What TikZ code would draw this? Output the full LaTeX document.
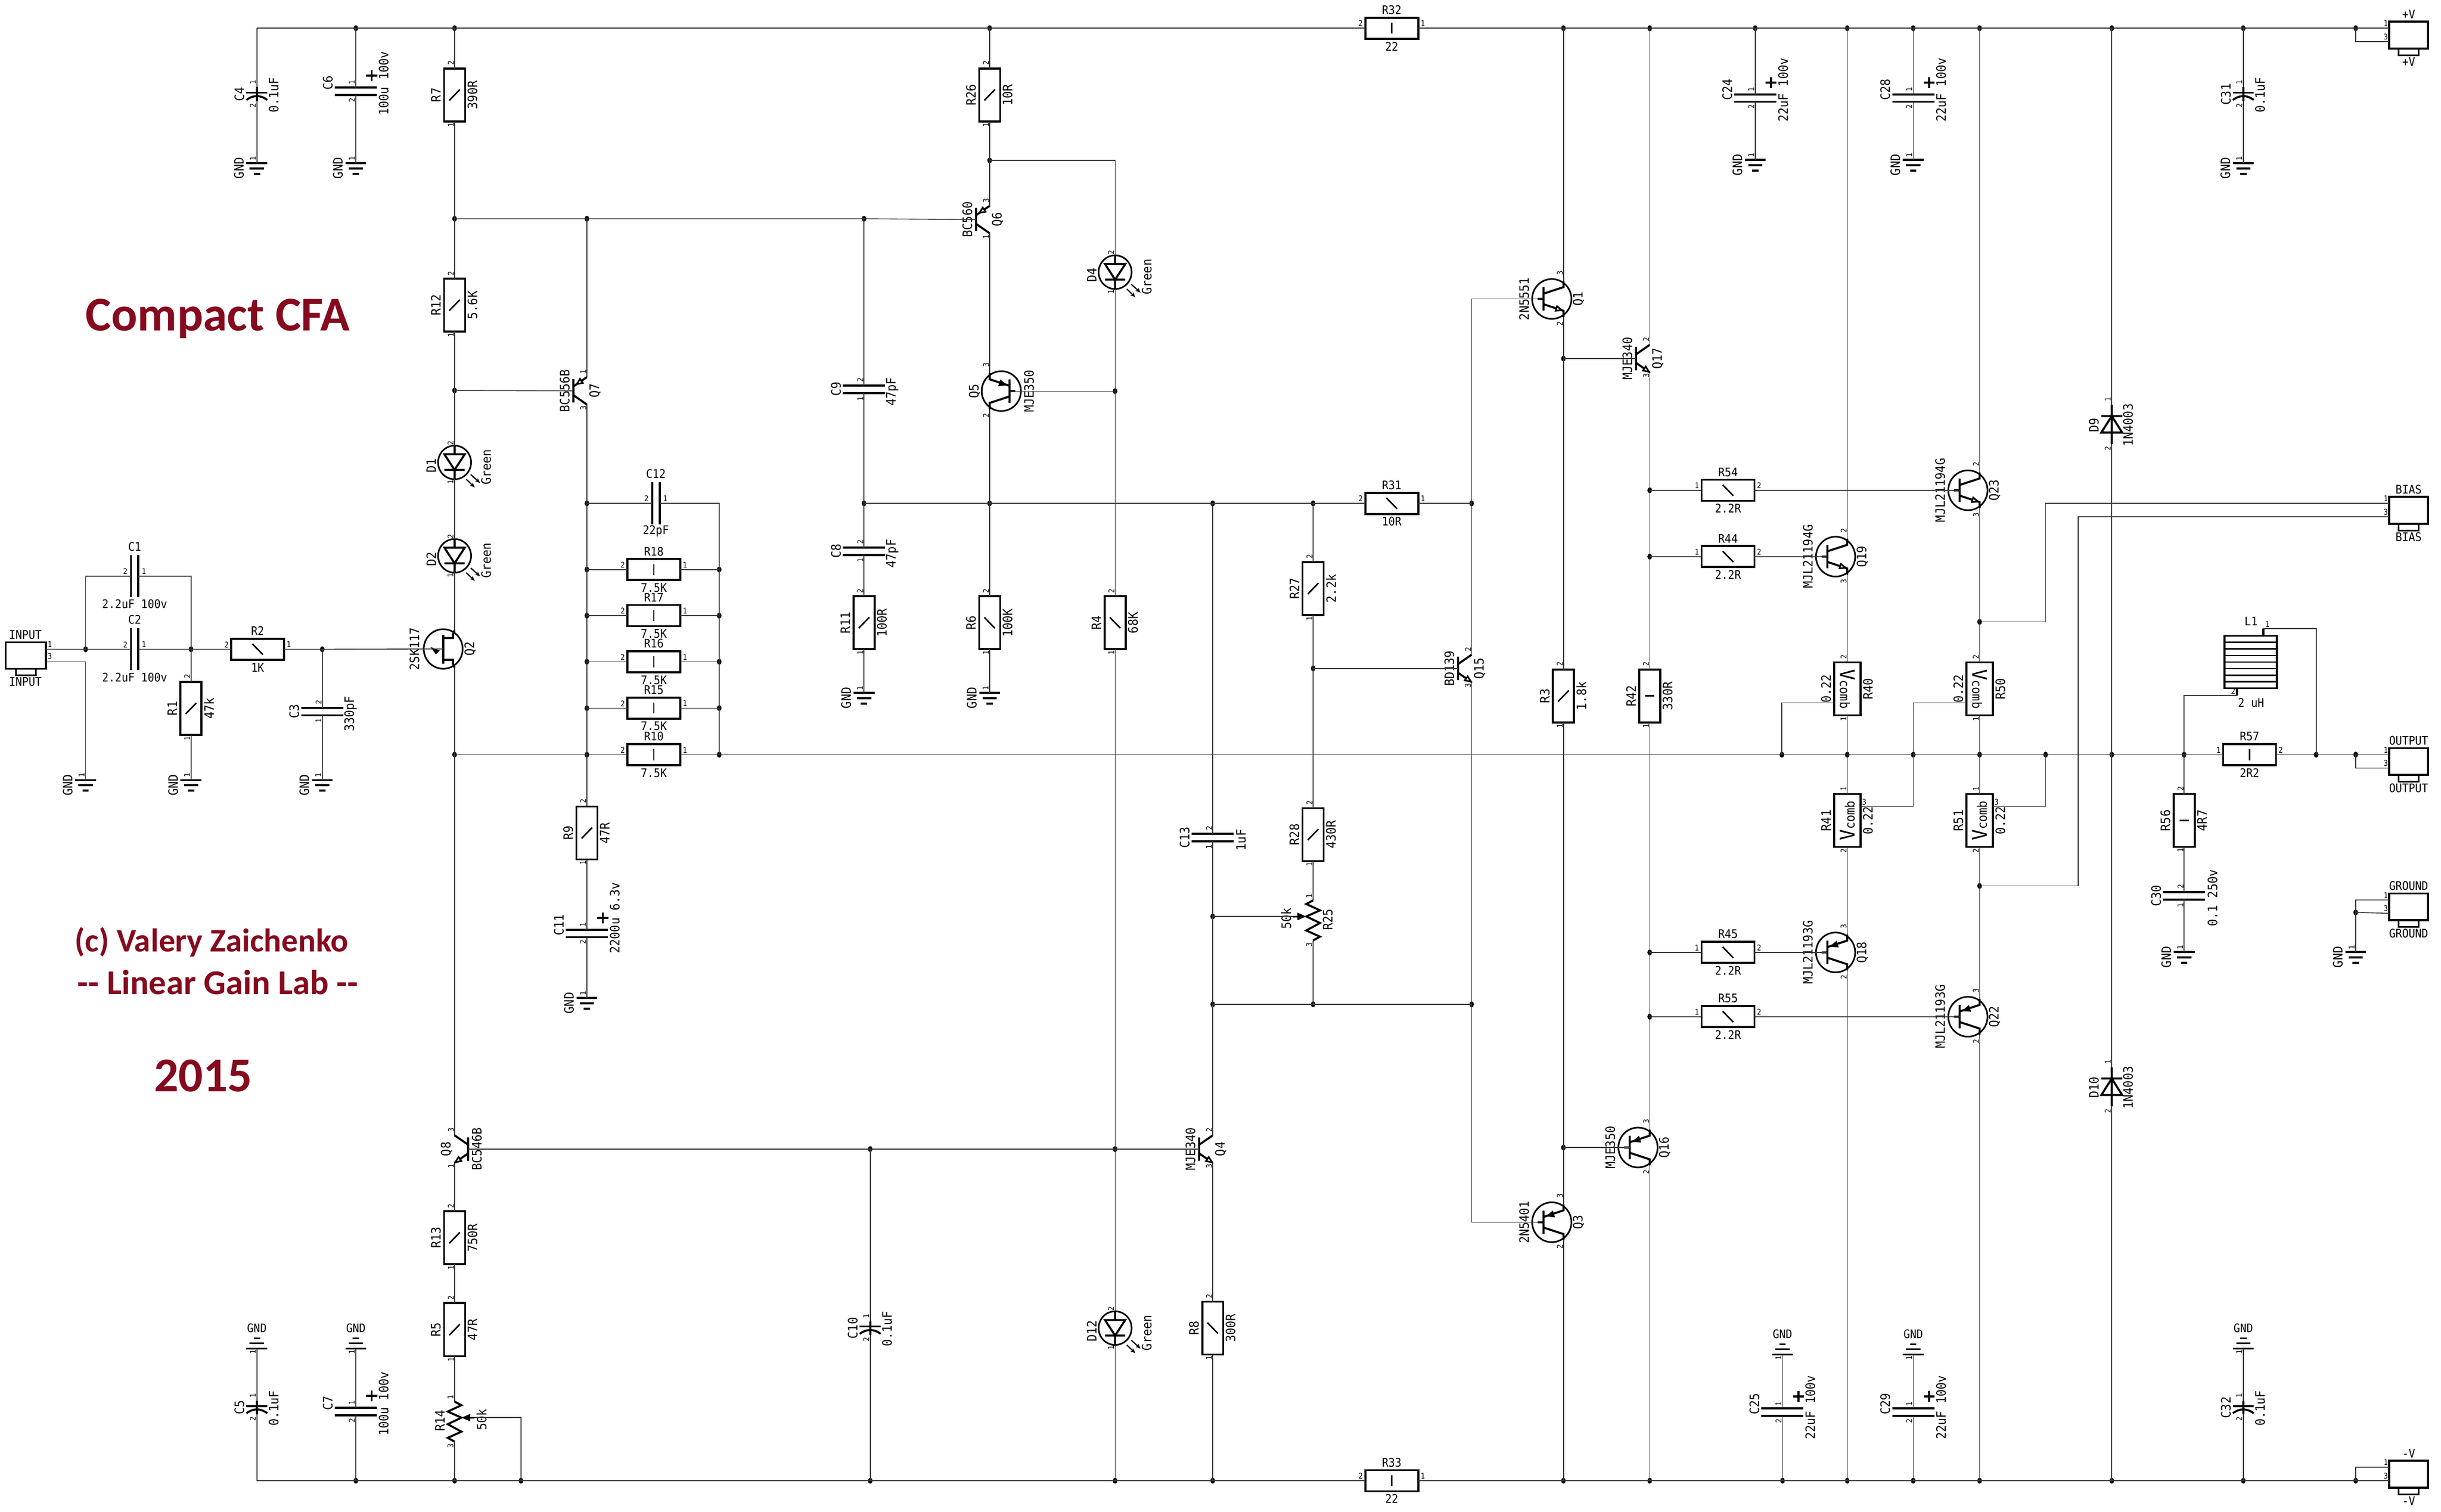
\documentclass[tikz,border=0pt]{standalone}
\usepackage{fontspec}
\usetikzlibrary{arrows.meta}
\newfontfamily\cad[FakeStretch=0.91]{DejaVu Sans Mono}
\newfontfamily\ttlfont{Carlito}
\definecolor{ttlred}{HTML}{860A1E}
\tikzset{
  wire/.style={line width=0.32pt,draw=black!78},
  sym/.style={line width=0.75pt,draw=black},
  tk/.style={line width=0.55pt,draw=black},
  vt/.style={inner sep=0pt,rotate=90,font=\cad\fontsize{4.8}{5}\selectfont},
  ht/.style={inner sep=0pt,font=\cad\fontsize{4.4}{5}\selectfont},
  pv/.style={inner sep=0pt,rotate=90,font=\cad\fontsize{2.9}{3}\selectfont},
  ph/.style={inner sep=0pt,font=\cad\fontsize{2.9}{3}\selectfont},
  title/.style={inner sep=0pt,text=ttlred,font=\ttlfont\bfseries},
  glow/.style={line width=0.45pt,-{Stealth[length=1.9pt,width=1.5pt]}}
}
\newcount\pcnt
\newcommand{\PV}[3]{\global\advance\pcnt by 1 \node[pv] (pin\the\pcnt) at (#1,#2) {#3};}
\newcommand{\PH}[3]{\global\advance\pcnt by 1 \node[ph] (pin\the\pcnt) at (#1,#2) {#3};}
\newcommand{\Jn}[3]{\coordinate (#1) at (#2,#3); \fill[black] (#2,#3) ellipse [x radius=1.5,y radius=1.9];}
\newcommand{\tS}{\draw[tk] (-3.4,3.5) -- (3.4,-3.5);}
\newcommand{\tB}{\draw[tk] (-3.4,-3.5) -- (3.4,3.5);}
\newcommand{\tV}{\draw[tk] (0,-3.5) -- (0,3.5);}
\newcommand{\tH}{\draw[tk] (-3,0) -- (3,0);}
% vertical resistor: name x y tick label value
\newcommand{\Rv}[6]{
  \begin{scope}[shift={(#2,#3)}]
    \draw[sym] (-6.75,-17) rectangle (6.75,17); #4
    \coordinate (#1-a) at (0,-17); \coordinate (#1-b) at (0,17);
    \node[vt] (#1-l) at (-12,0) {#5};
    \node[vt] (#1-v) at (11.5,0) {#6};
    \PV{-2.4}{-20.5}{2} \PV{-2.4}{19.2}{1}
  \end{scope}}
% horizontal resistor: name x y tick label value pinL pinR
\newcommand{\Rh}[8]{
  \begin{scope}[shift={(#2,#3)}]
    \draw[sym] (-17,-6.75) rectangle (17,6.75); #4
    \coordinate (#1-a) at (-17,0); \coordinate (#1-b) at (17,0);
    \node[ht] (#1-l) at (0,-11.7) {#5};
    \node[ht] (#1-v) at (0,11.7) {#6};
    \PH{-20}{-3}{#7} \PH{20}{-3}{#8}
  \end{scope}}
% Vcomb resistor: name x y rot label-left label-right pinT pinB
\newcommand{\Rc}[8]{
  \begin{scope}[shift={(#2,#3)}]
    \draw[sym] (-8.5,-17) rectangle (8.5,17);
    \coordinate (#1-a) at (0,-17); \coordinate (#1-b) at (0,17);
    \node[inner sep=0pt,rotate=#4,font=\cad\fontsize{4.8}{5}\selectfont] (#1-c) at (0,0) {{\fontsize{7.5}{8}\selectfont V}comb};
    \node[vt] (#1-l) at (-13.6,0) {#5};
    \node[vt] (#1-v) at (13.3,0) {#6};
    \PV{-2.4}{-20.5}{#7} \PV{-2.4}{19.5}{#8}
  \end{scope}}
% flat non polar vertical: name x y label value
\newcommand{\CapV}[5]{
  \begin{scope}[shift={(#2,#3)}]
    \draw[sym] (-13.5,-2.4) -- (13.5,-2.4) (-13.5,2.4) -- (13.5,2.4);
    \coordinate (#1-a) at (0,-2.4); \coordinate (#1-b) at (0,2.4);
    \node[vt] (#1-l) at (-18,0) {#4};
    \node[vt] (#1-v) at (18.2,1.5) {#5};
    \PV{-2.4}{-6}{2} \PV{-2.4}{6}{1}
  \end{scope}}
% polar: name x y label value value-dy
\newcommand{\CapP}[6]{
  \begin{scope}[shift={(#2,#3)}]
    \draw[sym] (-13.5,-2.4) -- (13.5,-2.4) (-13.5,2.4) -- (13.5,2.4);
    \draw[sym] (6.7,-10) -- (13.7,-10) (10.2,-13.5) -- (10.2,-6.5);
    \coordinate (#1-a) at (0,-2.4); \coordinate (#1-b) at (0,2.4);
    \node[vt] (#1-l) at (-18,-5.4) {#4};
    \node[vt] (#1-v) at (17.9,#6) {#5};
    \PV{-2.6}{-5.6}{1} \PV{-2.6}{5.6}{2}
  \end{scope}}
% curved: name x y label value
\newcommand{\CapC}[5]{
  \begin{scope}[shift={(#2,#3)}]
    \draw[sym] (-6.7,-0.5) -- (6.7,-0.5);
    \draw[sym] (-6.7,4.2) .. controls (-2.5,0.9) and (2.5,0.9) .. (6.7,4.2);
    \draw[sym] (0,-4) -- (0,4.8);
    \coordinate (#1-a) at (0,-4); \coordinate (#1-b) at (0,4.8);
    \node[vt] (#1-l) at (-11.2,0.5) {#4};
    \node[vt] (#1-v) at (10.8,1) {#5};
    \PV{-2.6}{-7}{1} \PV{-2.6}{7.7}{2}
  \end{scope}}
% horizontal cap: name x y label value
\newcommand{\CapH}[5]{
  \begin{scope}[shift={(#2,#3)}]
    \draw[sym] (-2.4,-13.5) -- (-2.4,13.5) (2.4,-13.5) -- (2.4,13.5);
    \coordinate (#1-a) at (-2.4,0); \coordinate (#1-b) at (2.4,0);
    \node[ht] (#1-l) at (0,-19) {#4};
    \node[ht] (#1-v) at (0,18) {#5};
    \PH{-6}{-3}{2} \PH{6}{-3}{1}
  \end{scope}}
\newcommand{\Gd}[3]{
  \coordinate (#1) at (#2,#3);
  \begin{scope}[shift={(#2,#3)}]
    \draw[sym] (-6.7,0) -- (6.7,0) (-4.6,3.4) -- (4.6,3.4) (-2,6.8) -- (2,6.8);
    \node[vt] (#1-l) at (-11.5,3.2) {GND};
    \PV{-2.6}{-3}{1}
  \end{scope}}
\newcommand{\Gu}[3]{
  \coordinate (#1) at (#2,#3);
  \begin{scope}[shift={(#2,#3)}]
    \draw[sym] (-6.7,0) -- (6.7,0) (-4.6,-3.5) -- (4.6,-3.5) (-2,-6.6) -- (2,-6.6);
    \node[ht] (#1-l) at (0,-13.2) {GND};
    \PV{-2.6}{2.2}{1}
  \end{scope}}
% round BJT: name col y s arrow model ref
\newcommand{\arrN}{\draw[line width=0.6pt,fill=white] (-1.1,7.2) -- (-5,7.53) -- (-4.1,4.67) -- cycle;}
\newcommand{\arrP}{\draw[line width=0.6pt,fill=black] (-10.1,-4.1) -- (-7.1,-6.63) -- (-6.2,-3.77) -- cycle;}
\newcommand{\BJTr}[7]{
  \begin{scope}[shift={(#2,#3)},xscale=#4]
    \draw[line width=0.6pt] (-7.5,0) ellipse [x radius=12.6,y radius=12.8];
    \draw[sym] (-12.8,-7.5) -- (-12.8,7.5) (-12.8,-3.4) -- (0,-7.6) -- (0,-11.5) (-12.8,3.4) -- (0,7.6) -- (0,11.5) (-12.8,0) -- (-16.5,0);
    #5
    \coordinate (#1-t) at (0,-11.5); \coordinate (#1-b) at (0,11.5); \coordinate (#1-g) at (-12.8,0);
    \node[vt] (#1-m) at (-25.3,0) {#6};
    \node[vt] (#1-r) at (9.7,0) {#7};
  \end{scope}}
% plain BJT: name col y s arrow model ref
\newcommand{\arrNp}{\draw[line width=0.6pt,fill=white] (-0.5,8.45) -- (-4.37,7.7) -- (-2.55,5.1) -- cycle;}
\newcommand{\arrPp}{\draw[line width=0.6pt,fill=white] (-6.5,-4.3) -- (-4.45,-7.67) -- (-2.63,-5.03) -- cycle;}
\newcommand{\BJTn}[7]{
  \begin{scope}[shift={(#2,#3)},xscale=#4]
    \draw[sym] (-8.7,-7.5) -- (-8.7,7.5) (-8.7,-2.8) -- (0,-8.8) (-8.7,2.8) -- (0,8.8);
    #5
    \coordinate (#1-t) at (0,-8.8); \coordinate (#1-b) at (0,8.8); \coordinate (#1-g) at (-8.7,0);
    \node[vt] (#1-m) at (-14.3,0) {#6};
    \node[vt] (#1-r) at (5.2,0) {#7};
  \end{scope}}
\newcommand{\LED}[6]{
  \begin{scope}[shift={(#2,#3)}]
    \draw[line width=0.6pt] (0,0) ellipse [x radius=10.6,y radius=10.8];
    \draw[sym] (-6.5,-5.2) -- (6.5,-5.2) -- (0,4.8) -- cycle (-6.5,4.8) -- (6.5,4.8) (0,-10.8) -- (0,-5.2) (0,4.8) -- (0,10.8);
    \draw[glow] (10.4,7.8) -- (16.4,13.2);
    \draw[glow] (7.5,10.8) -- (13,16.1);
    \coordinate (#1-a) at (0,-10.8); \coordinate (#1-b) at (0,10.8);
    \node[vt] (#1-l) at (-15,2) {#4};
    \node[vt] (#1-v) at (20.3,3) {Green};
    \PV{-2.6}{-12.5}{#5} \PV{-2.6}{12.5}{#6}
  \end{scope}}
\newcommand{\Diod}[5]{
  \begin{scope}[shift={(#2,#3)}]
    \draw[sym] (-6.7,-5.3) -- (6.7,-5.3) (-6.7,5.3) -- (6.7,5.3) -- (0,-5.3) -- cycle (0,-12.5) -- (0,12.5);
    \coordinate (#1-a) at (0,-12.5); \coordinate (#1-b) at (0,12.5);
    \node[vt] (#1-l) at (-11.5,0.5) {#4};
    \node[vt] (#1-v) at (10.5,0.5) {#5};
    \PV{-2.6}{-16}{1} \PV{-2.6}{15.5}{2}
  \end{scope}}
% pot: name x y s label value
\newcommand{\Pot}[6]{
  \begin{scope}[shift={(#2,#3)},xscale=#4]
    \draw[sym] (0,-10.3) -- (4.4,-8) -- (-4.4,-3.9) -- (4.4,0) -- (-4.4,4.2) -- (4.4,9) -- (-4.4,13) -- (0,15.4);
    \fill (4.4,0) -- (10,-2.4) -- (10,2.4) -- cycle;
    \draw[tk] (10,0) -- (13,0);
    \coordinate (#1-a) at (0,-10.3); \coordinate (#1-b) at (0,15.4); \coordinate (#1-w) at (13,0);
    \node[vt] (#1-l) at (-9.4,2) {#5};
    \node[vt] (#1-v) at (17.3,1.2) {#6};
  \end{scope}
  \PV{#2-2.6}{#3-13}{1} \PV{#2-2.6}{#3+18}{3}}
\newcommand{\Conn}[3]{
  \begin{scope}[shift={(1534.8,#2)}]
    \draw[sym] (0,-4.2) rectangle (24.9,13);
    \draw[line width=0.6pt] (6.1,13) -- (6.1,17.3) -- (18.8,17.3) -- (18.8,13);
    \coordinate (#1-1) at (0,0); \coordinate (#1-3) at (0,8.6);
    \node[ht] (#1-u) at (12.4,-9) {#3};
    \node[ht] (#1-d) at (12.4,21.5) {#3};
    \PH{-2.2}{-3}{1} \PH{-2.2}{5.5}{3}
  \end{scope}}
\begin{document}
\begin{tikzpicture}[x=0.5767pt,y=-0.5767pt]
\fill[white] (0,0) rectangle (1568,971.1);
\useasboundingbox (0,0) rectangle (1568,971.1);
% ---- titles
\node[title,font=\ttlfont\bfseries\fontsize{18}{20}\selectfont] (t1) at (140,204.5) {Compact CFA};
\node[title,font=\ttlfont\bfseries\fontsize{12.2}{14}\selectfont] (t2) at (136,605) {(c) Valery Zaichenko};
\node[title,font=\ttlfont\bfseries\fontsize{12.9}{15}\selectfont] (t3) at (140,631) {-- Linear Gain Lab --};
\node[title,font=\ttlfont\bfseries\fontsize{18}{20}\selectfont] (t4) at (130.5,691) {2015};
% ---- junctions
\coordinate (T165) at (165,18.1); \coordinate (B165) at (165,951);
\foreach \n/\x in {228/228.6,292/292,635/635.7,1004/1004.3,1060/1059.7,1127/1127.5,1187/1186.6,1229/1229,1271/1271.6,1356/1356.5,1441/1441,1513/1513.2} {\Jn{T\n}{\x}{18.1}}
\foreach \n/\x in {228/228.6,292/292,335/334.6,559/559,716/716.3,779/779,1004/1004.3,1060/1059.7,1145/1145,1187/1186.6,1229/1229,1271/1271.6,1356/1356.5,1441/1441,1513/1513.2} {\Jn{B\n}{\x}{951}}
\foreach \n/\x in {292/292,377/377,462/462,1144/1144.6,1187/1186.6,1229/1229,1271/1271.6,1314/1314,1356/1356.5,1403/1403,1488/1487.8,1513/1513.2} {\Jn{M\n}{\x}{484.7}}
\Jn{Ji55}{55}{417} \Jn{Ji122}{122.7}{417} \Jn{Ji207}{207}{417}
\Jn{Ja292}{292}{140.5} \Jn{Ja377}{377}{140.5} \Jn{Ja555}{555}{140.5} \Jn{Jb292}{292}{250.8}
\Jn{Jc377}{377}{323.3} \Jn{Jd377}{377}{365.8} \Jn{Je377}{377}{395.4} \Jn{Jf377}{377}{425} \Jn{Jg377}{377}{454.8}
\coordinate (Kc) at (462,323.3); \Jn{Kd}{462}{365.8} \Jn{Ke}{462}{395.4} \Jn{Kf}{462}{425} \Jn{Kg}{462}{454.8}
\Jn{Jc555}{555}{323.3} \Jn{Jc635}{635.7}{323.3} \Jn{Jc779}{779}{323.3} \Jn{Jc843}{843.5}{323.3} \Jn{Jc945}{945.3}{323.3}
\Jn{Jb635}{635.7}{103} \Jn{Jb716}{716.3}{251.2} \Jn{J843b}{843.5}{429.3} \Jn{J779b}{779}{588.6} \Jn{J779c}{779}{645} \Jn{J843c}{843.5}{645} \Jn{J945b}{945.3}{645}
\Jn{J559}{559}{738} \Jn{J716c}{716.3}{738} \Jn{J1004b}{1004.3}{230.3} \Jn{J1004c}{1004.3}{737}
\Jn{J1060a}{1059.7}{314.9} \Jn{J1060b}{1059.7}{357.5} \Jn{J1060c}{1059.7}{611.7} \Jn{J1060d}{1059.7}{653}
\Jn{J1271a}{1271.6}{399.4} \Jn{J1271b}{1271.6}{569}
\coordinate (Bc1) at (1314,399.4); \coordinate (Bc2) at (1335,569);
\Jn{Jgnd}{1513.2}{586}
% ---- input connector
\draw[sym] (3.6,412.5) rectangle (29.5,429.5);
\draw[line width=0.6pt] (10.4,429.5) -- (10.4,433.6) -- (23,433.6) -- (23,429.5);
\coordinate (IN-1) at (29.5,417); \coordinate (IN-3) at (29.5,425);
\coordinate (INc) at (55,425);
\node[ht] (IN-u) at (16.3,407.6) {INPUT};
\node[ht] (IN-d) at (16.3,437.9) {INPUT};
\PH{32}{414}{1} \PH{32}{421.5}{3}
\Conn{PV}{18.1}{+V} \Conn{NV}{942.4}{-V} \Conn{BIAS}{323.3}{BIAS} \Conn{OUT}{484.7}{OUTPUT} \Conn{GR}{578}{GROUND}
% ---- resistors
\Rv{R7}{292}{61}{\tS}{R7}{390R}
\Rv{R12}{292}{196}{\tS}{R12}{5.6K}
\Rv{R1}{122.7}{455}{\tS}{R1}{47k}
\Rv{R26}{635.7}{61}{\tS}{R26}{10R}
\Rv{R4}{716.3}{400}{\tB}{R4}{68K}
\Rv{R6}{635.7}{400}{\tB}{R6}{100K}
\Rv{R11}{555}{400}{\tS}{R11}{100R}
\Rv{R9}{377}{535}{\tS}{R9}{47R}
\Rv{R13}{292}{795}{\tS}{R13}{750R}
\Rv{R5}{292}{854}{\tS}{R5}{47R}
\Rv{R8}{779}{853}{\tB}{R8}{300R}
\Rv{R27}{843.5}{378}{\tS}{R27}{2.2k}
\Rv{R28}{843.5}{536}{\tS}{R28}{430R}
\Rv{R3}{1004.3}{447}{\tS}{R3}{1.8k}
\Rv{R42}{1059.7}{447}{\tH}{R42}{330R}
\Rv{R56}{1403}{527}{\tH}{R56}{4R7}
\Rh{R2}{165.5}{417}{\tB}{R2}{1K}{2}{1}
\Rh{R18}{420}{365.8}{\tV}{R18}{7.5K}{2}{1}
\Rh{R17}{420}{395.4}{\tV}{R17}{7.5K}{2}{1}
\Rh{R16}{420}{425}{\tV}{R16}{7.5K}{2}{1}
\Rh{R15}{420}{454.8}{\tV}{R15}{7.5K}{2}{1}
\Rh{R10}{420}{484.7}{\tV}{R10}{7.5K}{2}{1}
\Rh{R31}{894}{323.3}{\tB}{R31}{10R}{2}{1}
\Rh{R32}{894}{18.1}{\tV}{R32}{22}{2}{1}
\Rh{R33}{894}{951}{\tV}{R33}{22}{2}{1}
\Rh{R54}{1110}{314.9}{\tB}{R54}{2.2R}{1}{2}
\Rh{R44}{1110}{357.5}{\tB}{R44}{2.2R}{1}{2}
\Rh{R45}{1110}{611.7}{\tB}{R45}{2.2R}{1}{2}
\Rh{R55}{1110}{653}{\tB}{R55}{2.2R}{1}{2}
\Rh{R57}{1445}{484.7}{\tV}{R57}{2R2}{1}{2}
\Rc{R40}{1186.6}{442.4}{-90}{0.22}{R40}{2}{1}
\Rc{R50}{1271.6}{442.4}{-90}{0.22}{R50}{2}{1}
\Rc{R41}{1186.6}{527}{90}{R41}{0.22}{1}{2}
\Rc{R51}{1271.6}{527}{90}{R51}{0.22}{1}{2}
\coordinate (R40-t) at (1178.1,451.4); \coordinate (R50-t) at (1263.1,451.4);
\coordinate (R41-t) at (1195.1,518); \coordinate (R51-t) at (1280.1,518);
\PH{1197.5}{515}{3} \PH{1282.5}{515}{3}
\Pot{R14}{292}{910.5}{1}{R14}{50k}
\Pot{R25}{843.5}{588.6}{-1}{R25}{50k}
% ---- capacitors
\CapH{C1}{86.5}{370}{C1}{2.2uF 100v}
\CapH{C2}{86.5}{417}{C2}{2.2uF 100v}
\CapH{C12}{421.3}{323.3}{C12}{22pF}
\CapV{C3}{207}{457}{C3}{330pF}
\CapV{C9}{555}{250}{C9}{47pF}
\CapV{C8}{555}{354}{C8}{47pF}
\CapV{C13}{779}{538}{C13}{1uF}
\CapV{C30}{1403}{575.3}{C30}{0.1 250v}
\CapC{C4}{165}{60}{C4}{0.1uF}
\CapC{C5}{165}{903.5}{C5}{0.1uF}
\CapC{C10}{559}{852.5}{C10}{0.1uF}
\CapC{C31}{1441}{60}{C31}{0.1uF}
\CapC{C32}{1441}{903.5}{C32}{0.1uF}
\CapP{C6}{228.6}{58.6}{C6}{100u 100v}{-5}
\CapP{C7}{228.6}{906.6}{C7}{100u 100v}{-5}
\CapP{C24}{1127.5}{63}{C24}{22uF 100v}{-5.2}
\CapP{C28}{1229}{63}{C28}{22uF 100v}{-5.2}
\CapP{C25}{1145}{907}{C25}{22uF 100v}{-3}
\CapP{C29}{1229}{907}{C29}{22uF 100v}{-3}
\CapP{C11}{377}{599.5}{C11}{2200u 6.3v}{-10}
% ---- grounds
\Gd{G1}{55}{501} \Gd{G2}{122.7}{501} \Gd{G3}{207}{501}
\Gd{G4}{165}{104.8} \Gd{G6}{228.6}{104.8} \Gd{G31}{1441}{104.8}
\Gd{G24}{1127.5}{102.7} \Gd{G28}{1229}{102.7}
\Gd{G11}{377}{641} \Gd{G8}{555}{445} \Gd{G66}{635.7}{445}
\Gd{G30}{1403}{611.5} \Gd{Gg}{1513.2}{611.5}
\Gu{G5}{165}{866.2} \Gu{G7}{228.6}{866.2} \Gu{G25}{1145}{870} \Gu{G29}{1229}{870} \Gu{G32}{1441}{866.2}
% ---- diodes
\LED{D1}{292}{297}{D1}{2}{1}
\LED{D2}{292}{357}{D2}{2}{1}
\LED{D4}{716.3}{174.8}{D4}{2}{1}
\LED{D12}{716.3}{853}{D12}{2}{1}
\Diod{D9}{1356.5}{272.5}{D9}{1N4003}
\Diod{D10}{1356.5}{698}{D10}{1N4003}
% ---- inductor
\draw[sym] (1428.8,408.4) rectangle (1462.6,442);
\foreach \k in {1,...,7} {\draw[line width=0.55pt] (1428.8,408.4+4.2*\k) -- (1462.6,408.4+4.2*\k);}
\draw[sym] (1454,408.4) -- (1454,403.8) (1437,442) -- (1437,446.7);
\coordinate (L1-a) at (1454,403.8); \coordinate (L1-b) at (1437,446.7);
\node[ht] (L1-l) at (1446,399) {L1};
\node[ht] (L1-v) at (1446,451.5) {2 uH};
\PH{1456.5}{401}{1} \PH{1434.5}{444}{2}
% ---- transistors
\BJTr{Q1}{1004.3}{192}{1}{\arrN}{2N5551}{Q1}
\BJTr{Q3}{1004.3}{785}{1}{\arrP}{2N5401}{Q3}
\BJTr{Q5}{635.7}{251.2}{-1}{\arrP}{MJE350}{Q5}
\BJTr{Q16}{1059.7}{737}{1}{\arrP}{MJE350}{Q16}
\BJTr{Q19}{1186.6}{357.5}{1}{\arrN}{MJL21194G}{Q19}
\BJTr{Q18}{1186.6}{611.7}{1}{\arrP}{MJL21193G}{Q18}
\BJTr{Q23}{1271.6}{314.9}{1}{\arrN}{MJL21194G}{Q23}
\BJTr{Q22}{1271.6}{653}{1}{\arrP}{MJL21193G}{Q22}
\foreach \c/\y/\a/\b in {1004.3/192/3/2,1004.3/785/3/2,635.7/251.2/3/2,1059.7/737/3/2,1186.6/357.5/2/3,1186.6/611.7/3/2,1271.6/314.9/2/3,1271.6/653/3/2} {\PV{\c-2.3}{\y-16.8}{\a} \PV{\c-2.3}{\y+15.8}{\b}}
\BJTn{Q6}{635.7}{141}{1}{\arrPp}{BC560}{Q6}
\BJTn{Q7}{377}{251}{1}{\arrPp}{BC556B}{Q7}
\BJTn{Q17}{1059.7}{230.3}{1}{\arrNp}{MJE340}{Q17}
\BJTn{Q15}{945.3}{429.3}{1}{\arrNp}{BD139}{Q15}
\BJTn{Q4}{779}{738}{1}{\arrNp}{MJE340}{Q4}
\BJTn{Q8}{292}{738}{-1}{\arrNp}{BC546B}{Q8}
\foreach \c/\y/\a/\b in {635.7/141/3/1,377/251/1/3,1059.7/230.3/2/3,945.3/429.3/2/3,779/738/2/3,292/738/3/1} {\PV{\c-2.3}{\y-12.3}{\a} \PV{\c-2.3}{\y+11}{\b}}
% JFET Q2
\begin{scope}[shift={(292,416.8)}]
  \draw[line width=0.6pt] (-7.3,0) ellipse [x radius=12.5,y radius=12.7];
  \draw[sym] (-7.3,-9) -- (-7.3,9.5) (-7.3,-7) -- (-1,-7) -- (-1,-9.5) -- (0,-12) (-7.3,7) -- (-1,7) -- (-1,9.5) -- (0,12);
  \fill (-9.5,1) -- (-15.5,-1.3) -- (-12,3.5) -- cycle;
  \coordinate (Q2-t) at (0,-12); \coordinate (Q2-b) at (0,12); \coordinate (Q2-g) at (-7.3,0);
  \node[vt] (Q2-m) at (-25.8,0) {2SK117};
  \node[vt] (Q2-r) at (10,0) {Q2};
\end{scope}
% ---- wires
\begin{scope}[every path/.style={wire}]
% rails
\draw (T165) -- (T228) -- (T292) -- (T635) -- (R32-a) (R32-b) -- (T1004) -- (T1060) -- (T1127) -- (T1187) -- (T1229) -- (T1271) -- (T1356) -- (T1441) -- (T1513) -- (PV-1);
\draw (T1513) |- (PV-3);
\draw (B165) -- (B228) -- (B292) -- (B335) -- (B559) -- (B716) -- (B779) -- (R33-a) (R33-b) -- (B1004) -- (B1060) -- (B1145) -- (B1187) -- (B1229) -- (B1271) -- (B1356) -- (B1441) -- (B1513) -- (NV-3);
\draw (B1513) |- (NV-1);
\draw (M292) -- (M377) -- (R10-a) (R10-b) -- (M462) -- (M1144) -- (M1187) -- (M1229) -- (M1271) -- (M1314) -- (M1356) -- (M1403) -- (R57-a) (R57-b) -- (M1488) -- (M1513) -- (OUT-1);
\draw (M1513) |- (OUT-3);
% input
\draw (IN-1) -- (Ji55) -- (C2-a) (C2-b) -- (Ji122) -- (R2-a) (R2-b) -- (Ji207) -- (Q2-g);
\draw (IN-3) -- (INc) -- (G1);
\draw (Ji55) |- (C1-a) (C1-b) -| (Ji122);
\draw (Ji122) -- (R1-a) (R1-b) -- (G2);
\draw (Ji207) -- (C3-a) (C3-b) -- (G3);
% left caps
\draw (T165) -- (C4-a) (C4-b) -- (G4) (T228) -- (C6-a) (C6-b) -- (G6);
\draw (B165) -- (C5-b) (C5-a) -- (G5) (B228) -- (C7-b) (C7-a) -- (G7);
% column 292
\draw (T292) -- (R7-a) (R7-b) -- (Ja292) -- (R12-a) (R12-b) -- (Jb292) -- (D1-a) (D1-b) -- (D2-a) (D2-b) -- (Q2-t) (Q2-b) -- (M292) -- (Q8-t) (Q8-b) -- (R13-a) (R13-b) -- (R5-a) (R5-b) -- (R14-a) (R14-b) -- (B292);
\draw (R14-w) -| (B335);
\draw (Ja292) -- (Ja377) -- (Ja555) -- (Q6-g);
\draw (Jb292) -- (Q7-g);
% column 377 / 462
\draw (Ja377) -- (Q7-t) (Q7-b) -- (Jc377) -- (Jd377) -- (Je377) -- (Jf377) -- (Jg377) -- (M377) -- (R9-a) (R9-b) -- (C11-a) (C11-b) -- (G11);
\draw (Jc377) -- (C12-a) (C12-b) -- (Kc) -- (Kd) -- (Ke) -- (Kf) -- (Kg) -- (M462);
\draw (Jd377) -- (R18-a) (R18-b) -- (Kd) (Je377) -- (R17-a) (R17-b) -- (Ke) (Jf377) -- (R16-a) (R16-b) -- (Kf) (Jg377) -- (R15-a) (R15-b) -- (Kg);
% column 555 / 635 / 716
\draw (Ja555) -- (C9-a) (C9-b) -- (Jc555) -- (C8-a) (C8-b) -- (R11-a) (R11-b) -- (G8);
\draw (T635) -- (R26-a) (R26-b) -- (Jb635) -- (Q6-t) (Q6-b) -- (Q5-t) (Q5-b) -- (Jc635) -- (R6-a) (R6-b) -- (G66);
\draw (Jb635) -| (D4-a) (D4-b) -- (Jb716) -- (R4-a) (R4-b) -- (J716c) -- (D12-a) (D12-b) -- (B716);
\draw (Q5-g) -- (Jb716);
% row 323
\draw (Jc555) -- (Jc635) -- (Jc779) -- (Jc843) -- (R31-a) (R31-b) -- (Jc945);
\draw (Jc945) |- (Q1-g) (Jc945) -- (Q15-t) (Q15-b) -- (J945b) |- (Q3-g);
\draw (Q15-g) -- (J843b);
\draw (Jc843) -- (R27-a) (R27-b) -- (J843b) -- (R28-a) (R28-b) -- (R25-a) (R25-b) -- (J843c);
\draw (J779c) -- (J843c) -- (J945b);
\draw (R25-w) -- (J779b);
\draw (Jc779) -- (C13-a) (C13-b) -- (J779b) -- (J779c) -- (Q4-t) (Q4-b) -- (R8-a) (R8-b) -- (B779);
\draw (Q8-g) -- (J559) -- (J716c) -- (Q4-g);
\draw (J559) -- (C10-a) (C10-b) -- (B559);
% column 1004 / 1060
\draw (T1004) -- (Q1-t) (Q1-b) -- (J1004b) -- (R3-a) (R3-b) -- (J1004c) -- (Q3-t) (Q3-b) -- (B1004);
\draw (J1004b) -- (Q17-g) (J1004c) -- (Q16-g);
\draw (T1060) -- (Q17-t) (Q17-b) -- (J1060a) -- (J1060b) -- (R42-a) (R42-b) -- (J1060c) -- (J1060d) -- (Q16-t) (Q16-b) -- (B1060);
\draw (J1060a) -- (R54-a) (R54-b) -- (Q23-g) (J1060b) -- (R44-a) (R44-b) -- (Q19-g) (J1060c) -- (R45-a) (R45-b) -- (Q18-g) (J1060d) -- (R55-a) (R55-b) -- (Q22-g);
% output columns
\draw (T1187) -- (Q19-t) (Q19-b) -- (R40-a) (R40-b) -- (M1187) -- (R41-a) (R41-b) -- (Q18-t) (Q18-b) -- (B1187);
\draw (T1271) -- (Q23-t) (Q23-b) -- (J1271a) -- (R50-a) (R50-b) -- (M1271) -- (R51-a) (R51-b) -- (J1271b) -- (Q22-t) (Q22-b) -- (B1271);
\draw (R40-t) -| (M1144) (R50-t) -| (M1229) (R41-t) -| (M1229) (R51-t) -| (M1314);
\draw (J1271a) -- (Bc1) |- (BIAS-1) (J1271b) -- (Bc2) |- (BIAS-3);
\draw (T1356) -- (D9-a) (D9-b) -- (M1356) -- (D10-a) (D10-b) -- (B1356);
% right caps
\draw (T1127) -- (C24-a) (C24-b) -- (G24) (T1229) -- (C28-a) (C28-b) -- (G28) (T1441) -- (C31-a) (C31-b) -- (G31);
\draw (B1145) -- (C25-b) (C25-a) -- (G25) (B1229) -- (C29-b) (C29-a) -- (G29) (B1441) -- (C32-b) (C32-a) -- (G32);
% output network
\draw (M1403) -- (R56-a) (R56-b) -- (C30-a) (C30-b) -- (G30);
\draw (L1-b) -| (M1403) (L1-a) -| (M1488);
\draw (GR-1) -| (Jgnd) (GR-3) -- (Jgnd) -- (Gg);
\end{scope}
\end{tikzpicture}
\end{document}
